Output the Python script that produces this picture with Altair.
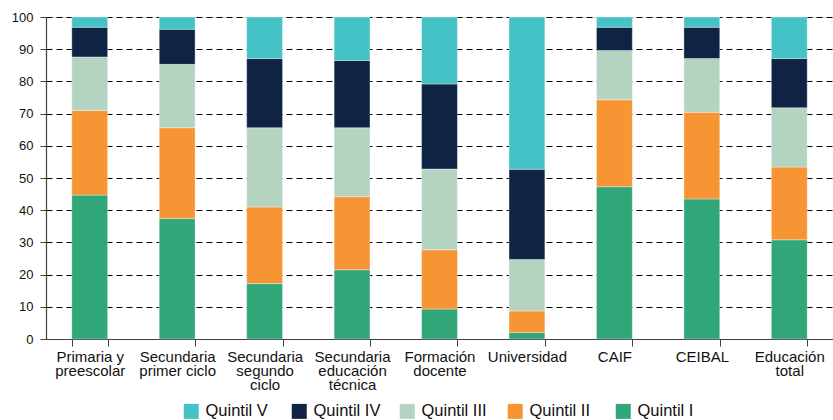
import altair as alt
import pandas as pd

# Distribution of public social spending by income quintil (percent of each item)
categories = [
    "Primaria y\npreescolar",
    "Secundaria\nprimer ciclo",
    "Secundaria\nsegundo\nciclo",
    "Secundaria\neducación\ntécnica",
    "Formación\ndocente",
    "Universidad",
    "CAIF",
    "CEIBAL",
    "Educación\ntotal",
]
quintiles = ["Quintil V", "Quintil IV", "Quintil III", "Quintil II", "Quintil I"]

q1 = [44.7, 37.4, 17.2, 21.5, 9.3, 2.0, 47.3, 43.5, 30.8]
q2 = [26.3, 28.2, 23.8, 22.7, 18.4, 6.7, 27.0, 26.9, 22.6]
q3 = [16.6, 19.7, 24.6, 21.4, 25.1, 16.0, 15.3, 16.7, 18.4]
q4 = [9.2, 10.9, 21.5, 20.9, 26.4, 28.0, 7.2, 9.7, 15.3]
q5 = [3.2, 3.8, 12.9, 13.5, 20.8, 47.3, 3.2, 3.2, 12.9]

colors = ["#45C2C6", "#0F2444", "#B5D3C1", "#F79433", "#31A678"]

series = {
    "Quintil I": q1,
    "Quintil II": q2,
    "Quintil III": q3,
    "Quintil IV": q4,
    "Quintil V": q5,
}
rank = {"Quintil I": 1, "Quintil II": 2, "Quintil III": 3, "Quintil IV": 4, "Quintil V": 5}

rows = []
for name, values in series.items():
    for cat, v in zip(categories, values):
        rows.append({"categoria": cat, "quintil": name, "valor": v, "rango": rank[name]})
df = pd.DataFrame(rows)

font = "Liberation Sans"

chart = (
    alt.Chart(df)
    .mark_bar(stroke="white", strokeWidth=0.5, strokeOpacity=0.7)
    .encode(
        x=alt.X(
            "categoria:N",
            sort=categories,
            title=None,
            scale=alt.Scale(paddingInner=0.59, paddingOuter=0.295),
            axis=alt.Axis(
                labelAngle=0,
                labelExpr="split(datum.label, '\\n')",
                labelFont=font,
                labelFontSize=15,
                labelLineHeight=14,
                labelColor="#111111",
                labelPadding=3,
                labelLimit=200,
                tickBand="extent",
                tickSize=7,
                tickColor="#404040",
                domainColor="#404040",
                domainWidth=1.2,
                grid=False,
            ),
        ),
        y=alt.Y(
            "valor:Q",
            stack="zero",
            title=None,
            scale=alt.Scale(domain=[0, 100], nice=False),
            axis=alt.Axis(
                values=list(range(0, 101, 10)),
                labelFont=font,
                labelFontSize=13,
                labelColor="#111111",
                labelPadding=7,
                tickSize=6,
                tickColor="#404040",
                domainColor="#404040",
                domainWidth=1.2,
                grid=True,
                gridColor="#000000",
                gridDash=[6, 4],
                gridWidth=1,
                gridOpacity=1,
            ),
        ),
        color=alt.Color(
            "quintil:N",
            scale=alt.Scale(domain=quintiles, range=colors),
            legend=alt.Legend(
                title=None,
                orient="none",
                legendX=137,
                legendY=386,
                direction="horizontal",
                columns=5,
                gridAlign="all",
                columnPadding=18,
                symbolType="square",
                symbolSize=225,
                symbolStrokeWidth=0,
                symbolOffset=0,
                labelOffset=6,
                labelFont=font,
                labelFontSize=16.5,
                labelColor="#111111",
                padding=0,
            ),
        ),
        order=alt.Order("rango:Q", sort="ascending"),
    )
    .properties(
        width=787,
        height=322,
        autosize=alt.AutoSizeParams(type="none"),
        padding={"left": 46, "top": 17, "right": 0, "bottom": 81},
    )
    .configure_view(stroke=None)
    .configure(background="white")
)

chart.save("out.html", embed_options={"renderer": "svg", "actions": False})
